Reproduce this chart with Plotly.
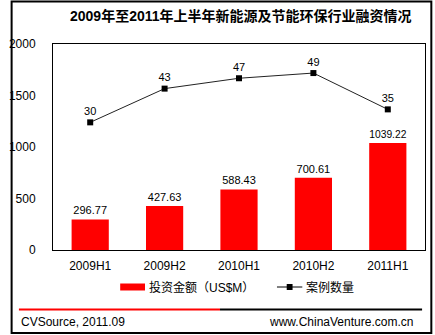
import plotly.graph_objects as go

# Half-year financing figures for new energy & energy-saving sector
periods = ["2009H1", "2009H2", "2010H1", "2010H2", "2011H1"]
amounts = [296.77, 427.63, 588.43, 700.61, 1039.22]   # US$M
deals = [30, 43, 47, 49, 35]                          # number of deals

W, H = 435, 335
L, R, T, B = 44, 426, 44, 250   # plot area in pixels


def px(x):
    return (x - L) / (R - L)


def py(y):
    return (B - y) / (B - T)


LAT = "Liberation Sans, Arial, Noto Sans CJK SC"
CJK = "Liberation Sans, Noto Sans CJK SC"

fig = go.Figure()
fig.add_trace(go.Bar(
    x=periods, y=amounts, name="投资金额（US$M）",
    marker=dict(color="#FF0000", line=dict(width=0)),
    text=[f"{v:.2f}" for v in amounts], textposition="outside",
    textfont=dict(family=LAT, size=11, color="#000"),
    cliponaxis=False,
))
fig.add_trace(go.Scatter(
    x=periods, y=deals, name="案例数量", yaxis="y2",
    mode="lines+markers+text",
    line=dict(color="#222", width=1),
    marker=dict(symbol="square", size=6, color="#000"),
    text=[str(v) for v in deals], textposition="top center",
    textfont=dict(family=LAT, size=11, color="#000"),
    cliponaxis=False,
))

shapes = [
    # outer frame
    dict(type="rect", xref="paper", yref="paper",
         x0=px(1.5), x1=px(432.5), y0=py(1.5), y1=py(333),
         line=dict(color="#000", width=2)),
    # footer divider
    dict(type="line", xref="paper", yref="paper",
         x0=px(9), x1=px(215.5), y0=py(309.5), y1=py(309.5),
         line=dict(color="#FF0000", width=2)),
    dict(type="line", xref="paper", yref="paper",
         x0=px(215.5), x1=px(423), y0=py(309.5), y1=py(309.5),
         line=dict(color="#000", width=2)),
    # legend swatches
    dict(type="rect", xref="paper", yref="paper",
         x0=px(113), x1=px(138.5), y0=py(283.5), y1=py(290.5),
         fillcolor="#FF0000", line=dict(width=0)),
    dict(type="line", xref="paper", yref="paper",
         x0=px(274), x1=px(300), y0=py(287), y1=py(287),
         line=dict(color="#000", width=1)),
    dict(type="rect", xref="paper", yref="paper",
         x0=px(284), x1=px(290), y0=py(284), y1=py(290),
         fillcolor="#000", line=dict(width=0)),
]

annotations = [
    dict(text="<b>2009年至2011年上半年新能源及节能环保行业融资情况</b>",
         xref="paper", yref="paper", x=px(237.5), y=py(16),
         xanchor="center", yanchor="middle", showarrow=False,
         font=dict(family=CJK, size=14, color="#000")),
    dict(text="投资金额（US$M）", xref="paper", yref="paper",
         x=px(141), y=py(287), xanchor="left", yanchor="middle",
         showarrow=False, font=dict(family=CJK, size=12, color="#000")),
    dict(text="案例数量", xref="paper", yref="paper",
         x=px(302), y=py(287), xanchor="left", yanchor="middle",
         showarrow=False, font=dict(family=CJK, size=12, color="#000")),
    dict(text="CVSource, 2011.09", xref="paper", yref="paper",
         x=px(9), y=py(322), xanchor="left", yanchor="middle",
         showarrow=False, font=dict(family=LAT, size=12, color="#000")),
    dict(text="www.ChinaVenture.com.cn", xref="paper", yref="paper",
         x=px(416), y=py(322), xanchor="right", yanchor="middle",
         showarrow=False, font=dict(family=LAT, size=12, color="#000")),
]

fig.update_layout(
    width=W, height=H,
    margin=dict(l=L, r=W - R, t=T, b=H - B, pad=0),
    paper_bgcolor="#fff", plot_bgcolor="#fff",
    showlegend=False, bargap=0.5,
    xaxis=dict(showline=True, linecolor="#000", linewidth=1, mirror=True,
               ticks="", showgrid=False,
               tickfont=dict(family=LAT, size=12, color="#000"),
               ticklabelstandoff=5),
    yaxis=dict(range=[0, 2000], dtick=500, showline=True, linecolor="#000",
               linewidth=1, mirror=True, ticks="", showgrid=False,
               zeroline=False,
               tickfont=dict(family=LAT, size=12, color="#000"),
               ticklabelstandoff=14),
    yaxis2=dict(overlaying="y", range=[-19.2, 60.2], visible=False),
    shapes=shapes, annotations=annotations,
)

fig.write_html("out.html")
